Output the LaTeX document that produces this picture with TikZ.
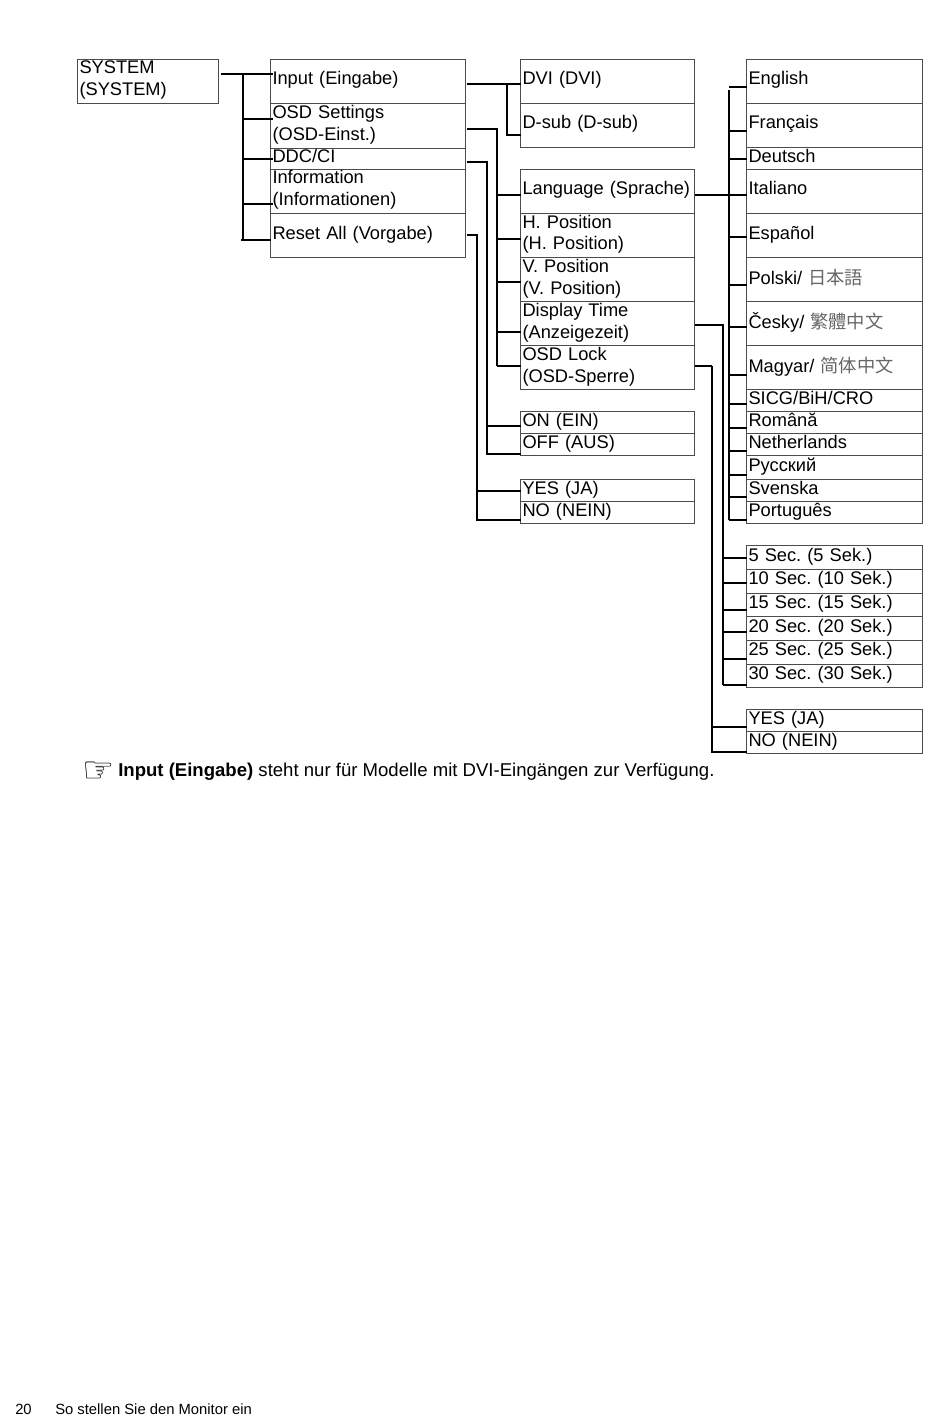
\documentclass[tikz,border=0pt]{standalone}
\usepackage{fontspec}
\setmainfont{Liberation Sans}
\newfontfamily\cjkjp{Noto Sans CJK JP}
\newfontfamily\cjktc{Noto Sans CJK TC}
\newfontfamily\cjksc{Noto Sans CJK SC}
\newfontfamily\symfont{DejaVu Sans}
\usetikzlibrary{positioning,calc}
\frenchspacing
\begin{document}
\begin{tikzpicture}[x=0.75pt,y=-0.75pt,node distance=0pt]
\tikzstyle{B}=[draw=black!70,line width=0.6pt,outer sep=0pt,inner xsep=1.5pt,inner ysep=0pt,align=left,text height=7.5pt,text depth=2.25pt,minimum height=33pt,font=\fontsize{13.7}{16.5}\selectfont]
\tikzstyle{two}=[text height=2.5pt,text depth=13.75pt]
\tikzstyle{low}=[minimum height=16.5pt]
\tikzstyle{cj}=[text height=9pt]
\tikzstyle{A}=[B,text width=102.75pt]
\tikzstyle{C}=[B,text width=143.25pt]
\tikzstyle{D}=[B,text width=127.5pt]
\tikzstyle{E}=[B,text width=129pt]
\tikzstyle{W}=[line width=0.9pt,black]
\tikzstyle{WT}=[line width=1.4pt,black]
\tikzstyle{N}=[inner sep=0pt,anchor=west,font=\fontsize{13.92}{16.5}\selectfont]
\useasboundingbox (0,0) rectangle (950,1416);
\node[A,two,minimum height=33pt,anchor=north west] (sys) at (77.5,59.5) {SYSTEM\\(SYSTEM)};
\node[C,anchor=north west] (input) at (270.5,59.5) {Input (Eingabe)};
\node[C,two,minimum height=33.75pt,below=of input] (osd) {OSD Settings\\(OSD-Einst.)};
\node[C,minimum height=15.75pt,below=of osd] (ddc) {DDC/CI};
\node[C,two,below=of ddc] (info) {Information\\(Informationen)};
\node[C,below=of info] (reset) {Reset All (Vorgabe)};
\node[D,anchor=north west] (dvi) at (520.5,59.5) {DVI (DVI)};
\node[D,below=of dvi] (dsub) {D-sub (D-sub)};
\node[D,below=16.5pt of dsub] (lang) {Language (Sprache)};
\node[D,two,below=of lang] (hpos) {H. Position\\(H. Position)};
\node[D,two,below=of hpos] (vpos) {V. Position\\(V. Position)};
\node[D,two,below=of vpos] (dtime) {Display Time\\(Anzeigezeit)};
\node[D,two,below=of dtime] (lock) {OSD Lock\\(OSD-Sperre)};
\node[D,low,below=16.5pt of lock] (ein) {ON (EIN)};
\node[D,low,below=of ein] (aus) {OFF (AUS)};
\node[D,low,below=18pt of aus] (ja) {YES (JA)};
\node[D,low,below=of ja] (nein) {NO (NEIN)};
\node[E,anchor=north west] (en) at (746.5,59.5) {English};
\node[E,below=of en] (fr) {Français};
\node[E,low,below=of fr] (de) {Deutsch};
\node[E,below=of de] (it) {Italiano};
\node[E,below=of it] (es) {Español};
\node[E,cj,below=of es] (pl) {Polski/ {\cjkjp\color{black!60}日本語}};
\node[E,cj,below=of pl] (cz) {Česky/ {\cjktc\color{black!60}繁體中文}};
\node[E,cj,below=of cz] (hu) {Magyar/ {\cjksc\color{black!60}简体中文}};
\node[E,low,below=of hu] (cro) {SICG/BiH/CRO};
\node[E,low,below=of cro] (ro) {Română};
\node[E,low,below=of ro] (nl) {Netherlands};
\node[E,low,minimum height=18pt,below=of nl] (ru) {Русский};
\node[E,low,below=of ru] (sv) {Svenska};
\node[E,low,below=of sv] (pt) {Português};
\node[E,minimum height=18pt,anchor=north west] (s5) at (746.5,545.5) {5 Sec. (5 Sek.)};
\node[E,minimum height=17.7pt,below=of s5] (s10) {10 Sec. (10 Sek.)};
\node[E,minimum height=17.7pt,below=of s10] (s15) {15 Sec. (15 Sek.)};
\node[E,minimum height=17.7pt,below=of s15] (s20) {20 Sec. (20 Sek.)};
\node[E,minimum height=17.7pt,below=of s20] (s25) {25 Sec. (25 Sek.)};
\node[E,minimum height=17.7pt,below=of s25] (s30) {30 Sec. (30 Sek.)};
\node[E,low,below=16.5pt of s30] (ja2) {YES (JA)};
\node[E,low,below=of ja2] (nein2) {NO (NEIN)};
\coordinate (b1) at (243,74);
\coordinate (b2) at (507,84);
\coordinate (b3) at (497,129);
\coordinate (b4) at (487,162);
\coordinate (b5) at (477,235);
\coordinate (b6) at (729,90);
\coordinate (b7) at (723,325);
\coordinate (b8) at (712,366);
\draw[WT] ([xshift=1.5pt]sys.east |- b1) -- (b1);
\draw[WT] (b1) -- ([xshift=1.5pt]input.west |- b1);
\draw[W] (b1) -- (b1 |- 0,240);
\foreach \n/\y in {osd/119,ddc/159,info/204}
  \draw[W] ([xshift=1.5pt]\n.west |- 0,\y) -- (b1 |- 0,\y);
\draw[W] (reset.west |- 0,240) -- (241,240);
\draw[W] ([xshift=1pt]input.east |- b2) -- (dvi.west |- b2);
\draw[W] (b2) -- (b2 |- 0,135) -- (dsub.west |- 0,135);
\draw[W] ([xshift=1pt]osd.east |- b3) -- (b3) -- (b3 |- 0,366);
\foreach \n/\y in {lang/195,hpos/239,vpos/282,dtime/332,lock/366}
  \draw[W] (b3 |- 0,\y) -- (\n.west |- 0,\y);
\draw[WT] ([xshift=1pt]ddc.east |- b4) -- (b4) -- (b4 |- 0,454) -- (aus.west |- 0,454);
\draw[W] (b4 |- 0,426) -- (ein.west |- 0,426);
\draw[W] ([xshift=1pt]reset.east |- b5) -- (b5) -- (b5 |- 0,520) -- (nein.west |- 0,520);
\draw[W] (b5 |- 0,491) -- (ja.west |- 0,491);
\draw[WT] (lang.east |- 0,195) -- (it.west |- 0,195);
\draw[WT] (b6) -- (b6 |- 0,520);
\foreach \n/\y in {en/87,de/159,es/237,hu/375,cro/404,ro/428,sv/497,pt/520}
  \draw[W] (b6 |- 0,\y) -- (\n.west |- 0,\y);
\foreach \n/\y in {fr/131,pl/285,cz/327,nl/451,ru/475}
  \draw[WT] (b6 |- 0,\y) -- (\n.west |- 0,\y);
\draw[W] (dtime.east |- b7) -- (b7) -- (b7 |- 0,685);
\foreach \n/\y in {s5/558,s10/583,s15/610,s20/632,s25/659,s30/685}
  \draw[W] (b7 |- 0,\y) -- (\n.west |- 0,\y);
\draw[WT] (lock.east |- b8) -- (b8);
\draw[W] (b8) -- (b8 |- 0,752) -- (nein2.west |- 0,752);
\draw[W] (b8 |- 0,727) -- (ja2.west |- 0,727);
\node[inner sep=0pt,font=\symfont\fontsize{27}{27}\selectfont] (hand) at (99,772) {☞};
\node[N] (note) at (118,771.5) {\textbf{Input (Eingabe)} steht nur für Modelle mit DVI-Eingängen zur Verfügung.};
\node[N,font=\fontsize{11.1}{13}\selectfont] (page) at (15,1409) {20};
\node[N,font=\fontsize{11.1}{13}\selectfont] (foot) at (55,1409) {So stellen Sie den Monitor ein};
\end{tikzpicture}
\end{document}
